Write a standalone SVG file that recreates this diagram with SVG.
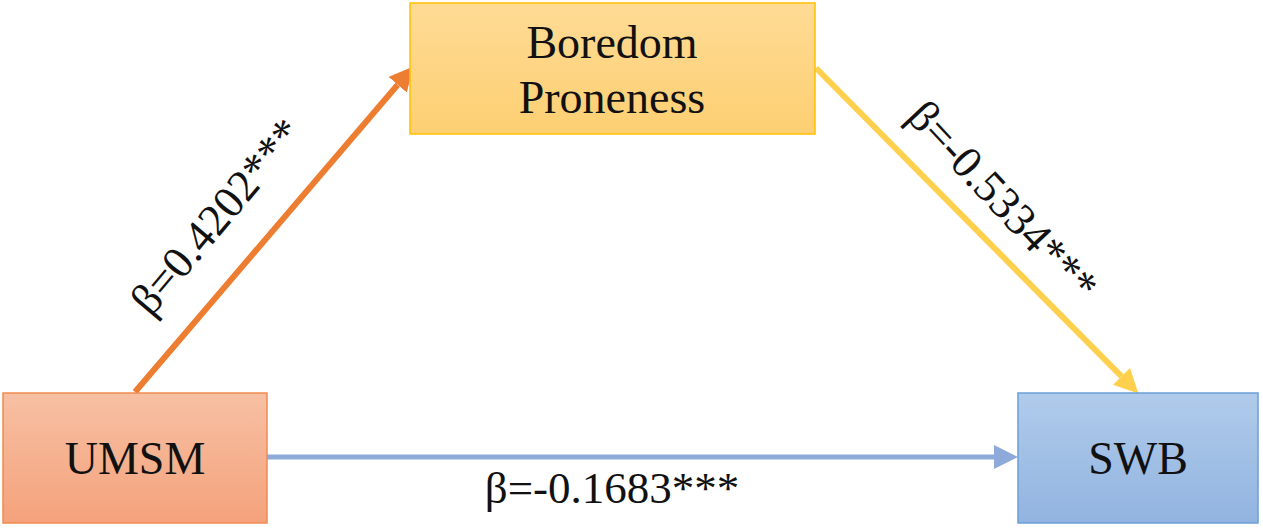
<svg xmlns="http://www.w3.org/2000/svg" width="1263" height="529" viewBox="0 0 1263 529">
<defs>
<style>
.lbl{font-family:"Liberation Serif","DejaVu Serif",serif;font-size:45px;fill:#111;}
.nd{font-family:"Liberation Serif","DejaVu Serif",serif;font-size:46px;fill:#111;}
.box{stroke-width:1.5;}
</style>
<linearGradient id="gO" x1="0" y1="0" x2="0" y2="1"><stop offset="0" stop-color="#f7c0a3"/><stop offset="1" stop-color="#f4a27c"/></linearGradient>
<linearGradient id="gY" x1="0" y1="0" x2="0" y2="1"><stop offset="0" stop-color="#fedb95"/><stop offset="1" stop-color="#fdcf72"/></linearGradient>
<linearGradient id="gB" x1="0" y1="0" x2="0" y2="1"><stop offset="0" stop-color="#b0cbeb"/><stop offset="1" stop-color="#92b4e0"/></linearGradient>
<marker id="aO" markerUnits="userSpaceOnUse" markerWidth="24" markerHeight="24" refX="0" refY="12" orient="auto" viewBox="0 0 24 24"><path d="M0,0 L24,12 L0,24 z" fill="#ed7d31"/></marker>
<marker id="aY" markerUnits="userSpaceOnUse" markerWidth="24" markerHeight="24" refX="0" refY="12" orient="auto" viewBox="0 0 24 24"><path d="M0,0 L24,12 L0,24 z" fill="#ffd04d"/></marker>
<marker id="aB" markerUnits="userSpaceOnUse" markerWidth="24" markerHeight="24" refX="0" refY="12" orient="auto" viewBox="0 0 24 24"><path d="M0,0 L24,12 L0,24 z" fill="#8eaadb"/></marker>
</defs>
<rect width="1263" height="529" fill="#ffffff"/>
<g id="connectors">
<line x1="135" y1="392" x2="397.7" y2="84.7" stroke="#ed7d31" stroke-width="6" marker-end="url(#aO)"/>
<line x1="816" y1="68" x2="1121.5" y2="376.4" stroke="#ffd04d" stroke-width="6" marker-end="url(#aY)"/>
<line x1="267" y1="457" x2="994" y2="457" stroke="#8eaadb" stroke-width="5" marker-end="url(#aB)"/>
<text class="lbl" x="228" y="226" text-anchor="middle" transform="rotate(-50 228 226)">β=0.4202***</text>
<text class="lbl" x="992" y="211" text-anchor="middle" transform="rotate(47 992 211)">β=-0.5334***</text>
<text class="lbl" x="612" y="503" text-anchor="middle">β=-0.1683***</text>
</g>
<g id="umsm">
<rect class="box" x="3" y="393" width="264" height="130" fill="url(#gO)" stroke="#f08a50"/>
<text class="nd" x="135" y="474" text-anchor="middle">UMSM</text>
</g>
<g id="boredom">
<rect class="box" x="410" y="3" width="405" height="131" fill="url(#gY)" stroke="#ffc000"/>
<text class="nd" x="612" y="58" text-anchor="middle">Boredom</text>
<text class="nd" x="612" y="113" text-anchor="middle">Proneness</text>
</g>
<g id="swb">
<rect class="box" x="1018" y="393" width="240" height="130" fill="url(#gB)" stroke="#6a9fd6"/>
<text class="nd" x="1138" y="474" text-anchor="middle">SWB</text>
</g>
</svg>
